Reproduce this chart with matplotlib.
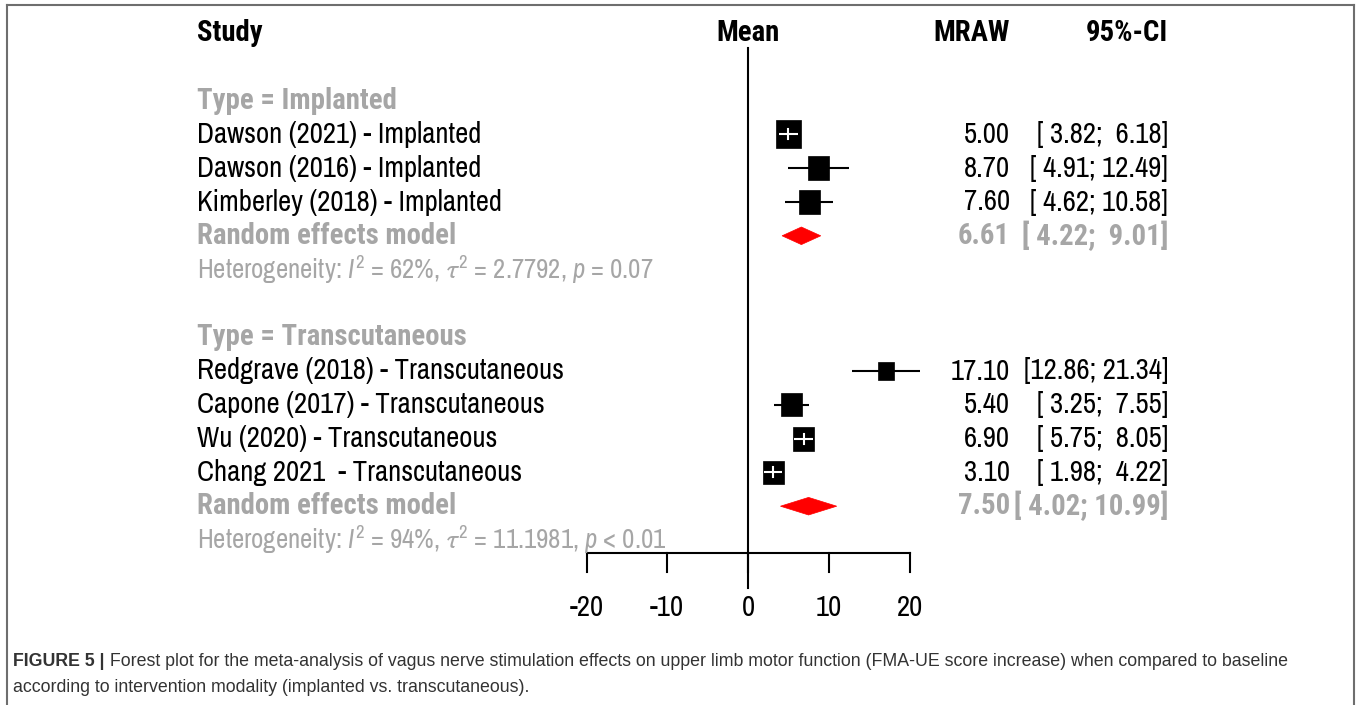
import matplotlib
matplotlib.use('Agg')
import matplotlib.pyplot as plt
from matplotlib.patches import Rectangle, Polygon
from matplotlib.lines import Line2D

# ---------------- data ----------------
studies = ["Dawson (2021) - Implanted", "Dawson (2016) - Implanted",
           "Kimberley (2018) - Implanted", "Redgrave (2018) - Transcutaneous",
           "Capone (2017) - Transcutaneous", "Wu (2020) - Transcutaneous",
           "Chang 2021  - Transcutaneous"]
study_group = [0, 0, 0, 1, 1, 1, 1]
group_names = ["Implanted", "Transcutaneous"]
mean = [5.00, 8.70, 7.60, 17.10, 5.40, 6.90, 3.10]
ci_low = [3.82, 4.91, 4.62, 12.86, 3.25, 5.75, 1.98]
ci_high = [6.18, 12.49, 10.58, 21.34, 7.55, 8.05, 4.22]
weight_rel = [25, 21, 21.5, 16, 20.5, 21.5, 21]   # relative square size (study weight)
pooled_mean = [6.61, 7.50]
pooled_low = [4.22, 4.02]
pooled_high = [9.01, 10.99]
het_I2 = ["62%", "94%"]
het_tau2 = ["2.7792", "11.1981"]
het_p = ["= 0.07", "< 0.01"]
xticks = [-20, -10, 0, 10, 20]
header = ["Study", "Mean", "MRAW", "95%-CI"]
caption_bold = "FIGURE 5 |"
caption_rest = (" Forest plot for the meta-analysis of vagus nerve stimulation effects on upper limb "
                "motor function (FMA-UE score increase) when compared to baseline")
caption_line2 = "according to intervention modality (implanted vs. transcutaneous)."

# ---------------- layout ----------------
W, H = 1357, 705
X0PX, PXU = 748.0, 8.075          # pixel of x=0, pixels per unit
ROW0, ROWPX = 33.0, 33.8           # pixel of row 0, pixels per row
GRAY = '#a6a6a6'
NARROW = 'Archivo Narrow'
BOLDFAM = ['Roboto Condensed', 'IBM Plex Sans Condensed', 'Fira Sans Condensed', NARROW]
plt.rcParams['font.family'] = [NARROW, 'Liberation Sans', 'DejaVu Sans']
plt.rcParams['mathtext.fontset'] = 'custom'
plt.rcParams['mathtext.rm'] = NARROW
plt.rcParams['mathtext.it'] = NARROW + ':italic'
plt.rcParams['mathtext.bf'] = NARROW + ':bold'
plt.rcParams['mathtext.fallback'] = 'stixsans'

def px2x(p):
    return (p - X0PX) / PXU

def py2r(p):
    return (p - ROW0) / ROWPX

fig = plt.figure(figsize=(W / 100, H / 100), dpi=100)
ax = fig.add_axes([0, 0, 1, 1])
ax.set_xlim(px2x(0), px2x(W))
ax.set_ylim(py2r(H), py2r(0))
ax.axis('off')

FS = 20.7
x_lab = px2x(197)
x_mraw = px2x(1010)
x_ci = px2x(1168)

def btext(x, y, s, **kw):
    return ax.text(x, y, s, fontsize=FS, fontweight='bold', family=BOLDFAM, va='center', **kw)

# header
btext(x_lab, 0, header[0], ha='left')
btext(0, 0, header[1], ha='center')
btext(x_mraw, 0, header[2], ha='right')
btext(x_ci, 0, header[3], ha='right')

def fmt_ci(lo, hi):
    return "[{:5.2f}; {:5.2f}]".format(lo, hi)

box_aspect = 1.12
r = 2
for g, gname in enumerate(group_names):
    btext(x_lab, r, "Type = " + gname, color=GRAY, ha='left')
    r += 1
    for i in [k for k in range(len(studies)) if study_group[k] == g]:
        ax.text(x_lab, r, studies[i], fontsize=FS, ha='left', va='center')
        ax.text(x_mraw, r, "{:.2f}".format(mean[i]), fontsize=FS, ha='right', va='center')
        ax.text(x_ci, r, fmt_ci(ci_low[i], ci_high[i]), fontsize=FS, ha='right', va='center')
        bw = weight_rel[i] / PXU
        bh = weight_rel[i] * box_aspect / ROWPX
        inside = (mean[i] - ci_low[i] < bw / 2) and (ci_high[i] - mean[i] < bw / 2)
        if not inside:
            ax.plot([ci_low[i], ci_high[i]], [r, r], color='black', lw=1.5, zorder=2,
                    solid_capstyle='butt')
        ax.add_patch(Rectangle((mean[i] - bw / 2, r - bh / 2), bw, bh,
                               facecolor='black', edgecolor='black', lw=0.5, zorder=3))
        if inside:
            ax.plot([ci_low[i], ci_high[i]], [r, r], color='white', lw=1.5, zorder=4,
                    solid_capstyle='butt')
            ax.plot([mean[i], mean[i]], [r - 0.15, r + 0.15], color='white', lw=1.5, zorder=4)
        r += 1
    # pooled
    btext(x_lab, r, "Random effects model", color=GRAY, ha='left')
    btext(x_mraw, r, "{:.2f}".format(pooled_mean[g]), color=GRAY, ha='right')
    btext(x_ci, r, fmt_ci(pooled_low[g], pooled_high[g]), color=GRAY, ha='right')
    dh = 0.26
    ax.add_patch(Polygon([(pooled_low[g], r), (pooled_mean[g], r - dh),
                          (pooled_high[g], r), (pooled_mean[g], r + dh)],
                         closed=True, facecolor='#ff0000', edgecolor='#ff0000', lw=0.5, zorder=3))
    r += 1
    het = ("Heterogeneity: $I^2$ = " + het_I2[g] + ", $\\tau^2$ = " + het_tau2[g] +
           ", $p$ " + het_p[g])
    ax.text(x_lab, r, het, fontsize=19.3, color=GRAY, ha='left', va='center')
    r += 2

# axis
r_axis = py2r(553)
r_tick = py2r(572)
ax.plot([xticks[0], xticks[-1]], [r_axis, r_axis], color='black', lw=1.5, zorder=2)
for t in xticks:
    ax.plot([t, t], [r_axis, r_tick], color='black', lw=1.5, zorder=2)
    ax.text(t, py2r(607), str(t), fontsize=FS, ha='center', va='center')
ax.plot([0, 0], [py2r(48), py2r(588)], color='black', lw=1.5, zorder=2)

# border
bc = '#6e6e6e'
fig.add_artist(Line2D([7 / W, 7 / W], [0, 1 - 4.5 / H], color=bc, lw=1.5, transform=fig.transFigure))
fig.add_artist(Line2D([7 / W, 1354 / W], [1 - 4.5 / H, 1 - 4.5 / H], color=bc, lw=1.5,
                      transform=fig.transFigure))
fig.add_artist(Line2D([1354 / W, 1354 / W], [0, 1 - 4.5 / H], color=bc, lw=1.5,
                      transform=fig.transFigure))

# caption
CFS = 12.8
CFONT = ['Liberation Sans', 'DejaVu Sans']
ccol = '#333333'
tb = fig.text(13 / W, 1 - 662 / H, caption_bold, fontsize=CFS, fontweight='bold', color=ccol,
              family=CFONT, ha='left', va='center')
fig.canvas.draw()
bb = tb.get_window_extent(renderer=fig.canvas.get_renderer())
fig.text(bb.x1 / W, 1 - 662 / H, caption_rest, fontsize=CFS, color=ccol, family=CFONT,
         ha='left', va='center')
fig.text(13 / W, 1 - 688 / H, caption_line2, fontsize=CFS, color=ccol, family=CFONT,
         ha='left', va='center')

fig.savefig('out.png', dpi=100)
